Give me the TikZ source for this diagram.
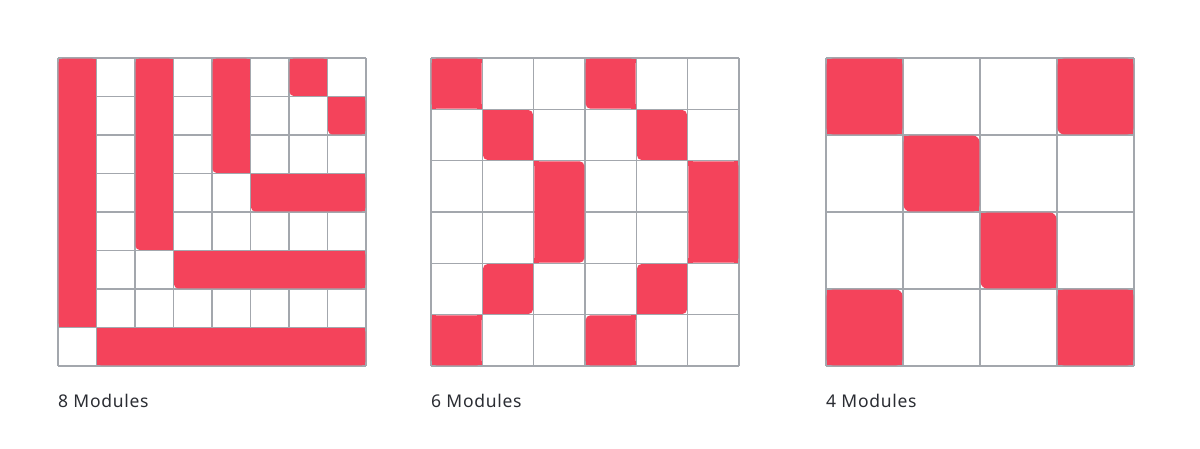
\documentclass[tikz,border=0pt]{standalone}
\usepackage{fontspec}
\setmainfont{Noto Sans}
\newfontfamily\labelfont[LetterSpace=4]{Noto Sans}
\definecolor{modred}{HTML}{F4435B}
\definecolor{gridgray}{HTML}{A3A7AD}
\definecolor{labelgray}{HTML}{2B2D33}
\newcommand\gx{0}
\newcommand\gy{0}
\newcommand\cs{1}
\newcommand\rad{4}
\newcommand\ins{0.7}
\newcommand\modgrid[4]{% x, y, cells, cell size
  \foreach \i in {0,...,#3} {
    \draw[gridline] ({#1+\i*#4},#2) -- ({#1+\i*#4},{#2+#3*#4});
    \draw[gridline] (#1,{#2+\i*#4}) -- ({#1+#3*#4},{#2+\i*#4});
  }
}
\newcommand\piece[8]{%
  \pgfmathsetmacro\xa{\gx+#1*\cs+\ins}%
  \pgfmathsetmacro\xb{\gx+#3*\cs-\ins}%
  \pgfmathsetmacro\ya{\gy+#2*\cs+\ins}%
  \pgfmathsetmacro\yb{\gy+#4*\cs-\ins}%
  \fill[modred,rounded corners=\rad pt] (\xa,\ya) rectangle (\xb,\yb);%
  \ifnum#5=0 \fill[modred] (\xa,\ya) rectangle ++(\rad,\rad);\fi
  \ifnum#6=0 \fill[modred] (\xb,\ya) rectangle ++(-\rad,\rad);\fi
  \ifnum#7=0 \fill[modred] (\xb,\yb) rectangle ++(-\rad,-\rad);\fi
  \ifnum#8=0 \fill[modred] (\xa,\yb) rectangle ++(\rad,-\rad);\fi
}
\tikzset{
  gridline/.style={draw=gridgray,line width=1.5pt},
  modlabel/.style={anchor=base west,inner sep=0pt,text=labelgray,font=\labelfont\fontsize{17.5}{20}\selectfont}
}
\begin{document}
\begin{tikzpicture}[x=1pt,y=-1pt]
\useasboundingbox (0,0) rectangle (1200,448);
\fill[white] (0,0) rectangle (1200,448);
% ---------- grid 1: 8 modules
\modgrid{58}{58}{8}{38.5}
\renewcommand\gx{58}\renewcommand\gy{58}\renewcommand\cs{38.5}\renewcommand\rad{3.5}
\piece{0}{0}{1}{7}{0}{0}{0}{0}
\piece{2}{0}{3}{5}{0}{0}{0}{1}
\piece{4}{0}{5}{3}{0}{0}{0}{1}
\piece{6}{0}{7}{1}{0}{0}{0}{1}
\piece{7}{1}{8}{2}{0}{0}{0}{1}
\piece{5}{3}{8}{4}{0}{0}{0}{1}
\piece{3}{5}{8}{6}{0}{0}{0}{1}
\piece{1}{7}{8}{8}{0}{0}{0}{0}
% ---------- grid 2: 6 modules
\modgrid{431}{58}{6}{51.333}
\renewcommand\gx{431}\renewcommand\gy{58}\renewcommand\cs{51.333}\renewcommand\rad{4.5}
\piece{0}{0}{1}{1}{0}{0}{0}{0}
\piece{3}{0}{4}{1}{0}{0}{0}{1}
\piece{1}{1}{2}{2}{0}{1}{0}{1}
\piece{4}{1}{5}{2}{0}{1}{0}{1}
\piece{2}{2}{3}{4}{0}{1}{1}{0}
\piece{5}{2}{6}{4}{0}{0}{0}{0}
\piece{1}{4}{2}{5}{1}{0}{1}{0}
\piece{4}{4}{5}{5}{1}{0}{1}{0}
\piece{0}{5}{1}{6}{0}{0}{0}{0}
\piece{3}{5}{4}{6}{1}{0}{0}{0}
% ---------- grid 3: 4 modules
\modgrid{826}{58}{4}{77}
\renewcommand\gx{826}\renewcommand\gy{58}\renewcommand\cs{77}\renewcommand\rad{6}
\piece{0}{0}{1}{1}{0}{0}{0}{0}
\piece{3}{0}{4}{1}{0}{0}{0}{1}
\piece{1}{1}{2}{2}{0}{1}{0}{1}
\piece{2}{2}{3}{3}{0}{1}{0}{1}
\piece{0}{3}{1}{4}{0}{1}{0}{0}
\piece{3}{3}{4}{4}{0}{0}{0}{0}
% ---------- labels
\node[modlabel] (lab8) at (58,407) {8 Modules};
\node[modlabel] (lab6) at (431,407) {6 Modules};
\node[modlabel] (lab4) at (826,407) {4 Modules};
\end{tikzpicture}
\end{document}
